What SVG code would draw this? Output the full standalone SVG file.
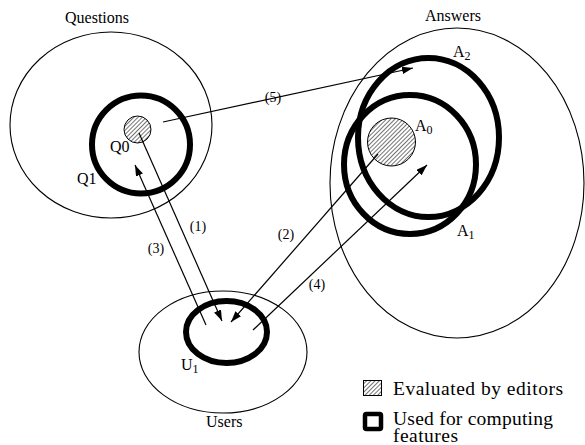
<svg xmlns="http://www.w3.org/2000/svg" width="585" height="445" viewBox="0 0 585 445">
<style>
text{font-family:"Liberation Serif","DejaVu Serif",serif;fill:#000}
.lbl{font-size:16px}
.num{font-size:14px}
.leg{font-size:19.5px}
.thin{fill:none;stroke:#000;stroke-width:1.1}
.thick{fill:none;stroke:#000;stroke-width:6}
.hat{fill:url(#hatch);stroke:#000;stroke-width:1}
.arr{stroke:#000;stroke-width:1.2;fill:none;marker-end:url(#ah)}
</style>
<defs>
<pattern id="hatch" patternUnits="userSpaceOnUse" width="3" height="3" patternTransform="rotate(45)">
<rect width="3" height="3" fill="#fff"/>
<line x1="0" y1="0" x2="0" y2="3" stroke="#000" stroke-width="1.1"/>
</pattern>
<marker id="ah" markerUnits="userSpaceOnUse" markerWidth="12" markerHeight="8" refX="11" refY="3.75" orient="auto">
<path d="M0,0 L11,3.75 L0,7.5 Z" fill="#000"/>
</marker>
</defs>
<g id="questions">
<ellipse class="thin" cx="111" cy="125" rx="101" ry="93"/>
<text class="lbl" x="65" y="23">Questions</text>
</g>
<g id="Q1">
<circle class="thick" cx="141" cy="144.5" r="49"/>
<text class="lbl" x="77" y="184">Q1</text>
</g>
<g id="Q0">
<circle class="hat" cx="137.5" cy="129.5" r="13.5"/>
<text class="lbl" x="110" y="152">Q0</text>
</g>
<g id="answers">
<ellipse class="thin" cx="457" cy="183" rx="127" ry="155"/>
<text class="lbl" x="425" y="21">Answers</text>
</g>
<g id="A2">
<ellipse class="thick" cx="428.5" cy="137.5" rx="70.5" ry="79.5"/>
<text class="lbl" x="453" y="57">A<tspan font-size="12" dy="3">2</tspan></text>
</g>
<g id="A1">
<ellipse class="thick" cx="410" cy="164.5" rx="66" ry="69.5"/>
<text class="lbl" x="457" y="236">A<tspan font-size="12" dy="3">1</tspan></text>
</g>
<g id="A0">
<circle class="hat" cx="391.5" cy="142" r="24"/>
<text class="lbl" x="415" y="131">A<tspan font-size="12" dy="3">0</tspan></text>
</g>
<g id="users">
<ellipse class="thin" cx="223" cy="352" rx="84" ry="61"/>
<text class="lbl" x="206" y="427">Users</text>
</g>
<g id="U1">
<ellipse class="thick" cx="226.5" cy="332" rx="40.5" ry="31"/>
<text class="lbl" x="181" y="370">U<tspan font-size="12" dy="3">1</tspan></text>
</g>
<g id="connectors">
<line class="arr" x1="139" y1="133" x2="222" y2="321"/>
<line class="arr" x1="206" y1="325" x2="135" y2="165"/>
<line class="arr" x1="378" y1="154" x2="231" y2="322"/>
<line class="arr" x1="253" y1="330" x2="427" y2="165"/>
<line class="arr" x1="163" y1="122" x2="413" y2="68"/>
<text class="num" x="198" y="231" text-anchor="middle">(1)</text>
<text class="num" x="286" y="239" text-anchor="middle">(2)</text>
<text class="num" x="156" y="253" text-anchor="middle">(3)</text>
<text class="num" x="317" y="289" text-anchor="middle">(4)</text>
<text class="num" x="273" y="102" text-anchor="middle">(5)</text>
</g>
<g id="legend">
<rect class="hat" x="363.5" y="380.5" width="18" height="15"/>
<text class="leg" x="393" y="395" textLength="170" lengthAdjust="spacing">Evaluated by editors</text>
<rect x="365" y="414" width="16" height="15" fill="none" stroke="#000" stroke-width="4.5" rx="1.5"/>
<text class="leg" x="393" y="425" textLength="160" lengthAdjust="spacing">Used for computing</text>
<text class="leg" x="393" y="442" textLength="65" lengthAdjust="spacing">features</text>
</g>
</svg>
